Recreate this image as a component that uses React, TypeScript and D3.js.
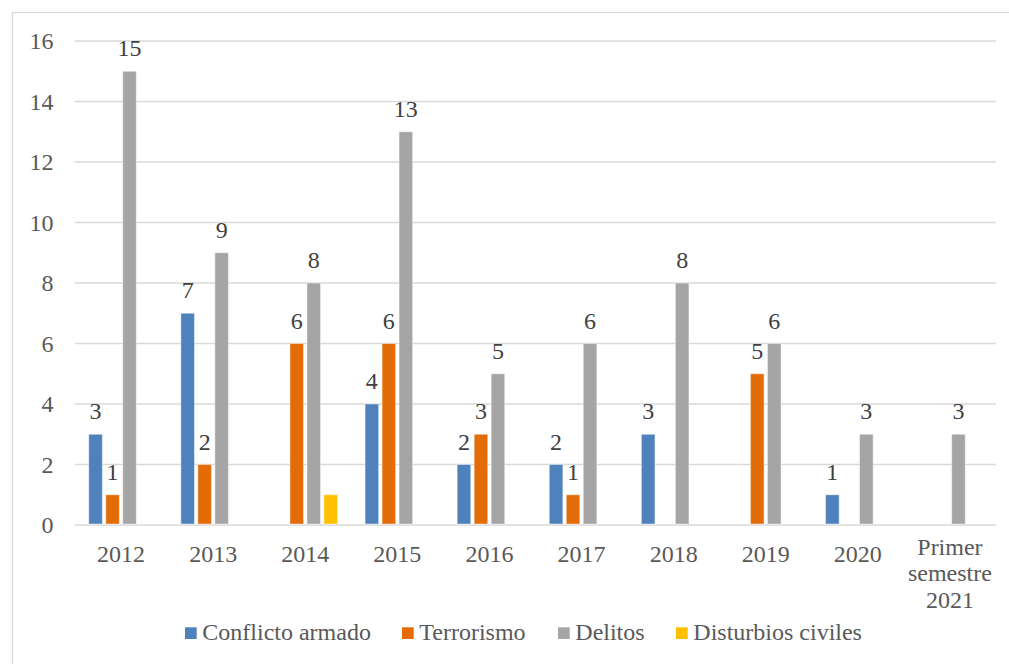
import React from "react";
import * as d3 from "d3";

const categories: string[][] = [
  ["2012"], ["2013"], ["2014"], ["2015"], ["2016"], ["2017"], ["2018"], ["2019"], ["2020"],
  ["Primer", "semestre", "2021"],
];
const seriesNames = ["Conflicto armado", "Terrorismo", "Delitos", "Disturbios civiles"];
const conflictoArmado: (number | null)[] = [3, 7, null, 4, 2, 2, 3, null, 1, null];
const terrorismo: (number | null)[] = [1, 2, 6, 6, 3, 1, null, 5, null, null];
const delitos: (number | null)[] = [15, 9, 8, 13, 5, 6, 8, 6, 3, 3];
const disturbiosCiviles: (number | null)[] = [null, null, 1, null, null, null, null, null, null, null];
const yTicks = [0, 2, 4, 6, 8, 10, 12, 14, 16];

const seriesValues = [conflictoArmado, terrorismo, delitos, disturbiosCiviles];
const seriesColors = ["#4F81BD", "#E36C09", "#A5A5A5", "#FFC000"];
const seriesShowLabels = [true, true, true, false];
const legendX = [185, 402, 558, 676];

const W = 1009;
const H = 664;
const left = 75;
const right = 996;
const top = 41;
const bottom = 525;

function T(props: any) {
  const { children, ...rest } = props;
  return (
    <text {...rest} style={{ fontFamily: `"Liberation Serif", monospace`, fontSize: "24px" }}>
      {children}
    </text>
  );
}

export default function App() {
  const x0 = d3.scaleBand<number>().domain(categories.map((_, i) => i)).range([left, right]).padding(0);
  const x1 = d3
    .scaleBand<number>()
    .domain(seriesNames.map((_, i) => i))
    .range([0, x0.bandwidth()])
    .paddingInner(0.2)
    .paddingOuter(0.81);
  const y = d3.scaleLinear().domain([0, 16]).range([bottom, top]);

  return (
    <svg width={W} height={H} style={{ position: "absolute", left: 0, top: 0, fontFamily: `"Liberation Serif"` }}>
      <rect x={0} y={0} width={W} height={H} fill="#fff" />
      <rect x={12.5} y={12.5} width={1010} height={700} fill="#fff" stroke="#D9D9D9" strokeWidth={1.3} />
      {yTicks.map((t) => (
        <g key={t}>
          <line x1={left} x2={right} y1={y(t)} y2={y(t)} stroke="#D9D9D9" strokeWidth={1.4} />
          <T x={53.5} y={y(t) + 8} textAnchor="end" fill="#595959">
            {t}
          </T>
        </g>
      ))}
      {seriesValues.map((vals, s) => (
        <g key={s}>
          {vals.map((v, i) =>
            v == null ? null : (
              <g key={i}>
                <rect
                  x={(x0(i) as number) + (x1(s) as number)}
                  y={y(v)}
                  width={x1.bandwidth()}
                  height={y(0) - y(v) - 1}
                  fill={seriesColors[s]}
                  stroke="rgba(255,255,255,0.45)"
                  strokeWidth={1}
                />
                {seriesShowLabels[s] && (
                  <T
                    x={(x0(i) as number) + (x1(s) as number) + x1.bandwidth() / 2}
                    y={y(v) - 15}
                    textAnchor="middle"
                    fill="#404040"
                  >
                    {v}
                  </T>
                )}
              </g>
            )
          )}
        </g>
      ))}
      {categories.map((lines, i) => {
        const cx = (x0(i) as number) + x0.bandwidth() / 2;
        const y0 = lines.length > 1 ? 555 : 561.5;
        return (
          <T key={i} textAnchor="middle" fill="#595959">
            {lines.map((l, k) => (
              <tspan key={k} x={cx} y={y0 + k * 26.3}>
                {l}
              </tspan>
            ))}
          </T>
        );
      })}
      {seriesNames.map((n, s) => (
        <g key={n}>
          <rect x={legendX[s]} y={627.3} width={11.7} height={11.7} fill={seriesColors[s]} />
          <T x={legendX[s] + 17.3} y={640} fill="#595959">
            {n}
          </T>
        </g>
      ))}
    </svg>
  );
}
